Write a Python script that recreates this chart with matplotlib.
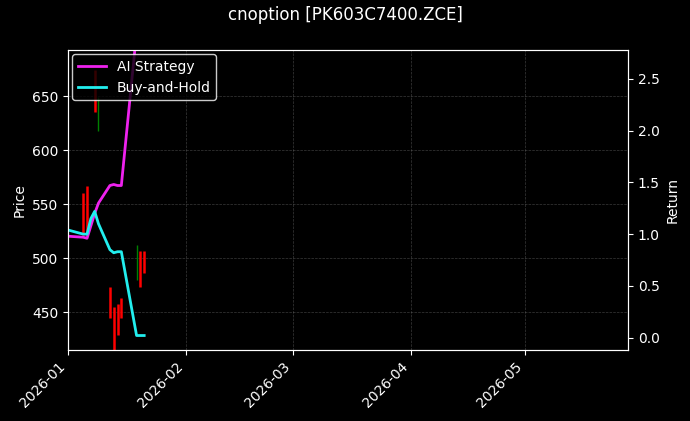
import matplotlib
matplotlib.use("Agg")
import matplotlib.pyplot as plt
import matplotlib.dates as mdates
import pandas as pd

candle_dates = ["2026-01-05","2026-01-06","2026-01-08","2026-01-09","2026-01-12","2026-01-13",
                "2026-01-14","2026-01-15","2026-01-19","2026-01-20","2026-01-21"]
opens  = [560, 567, 674, 618, 473, 455, 458, 463, 480, 507, 507]
closes = [521, 521, 635, 649, 445, 415, 429, 445, 512, 473, 486]

ret_dates = ["2026-01-01","2026-01-05","2026-01-06","2026-01-07","2026-01-08","2026-01-09",
             "2026-01-12","2026-01-13","2026-01-14","2026-01-15","2026-01-19","2026-01-20","2026-01-21"]
ai_ret  = [0.98, 0.97, 0.96, 1.08, 1.2, 1.3, 1.47, 1.48, 1.47, 1.47, 2.95, 3.0, 3.0]
bh_ret  = [1.04, 1.0, 1.0, 1.15, 1.22, 1.1, 0.85, 0.82, 0.83, 0.83, 0.02, 0.02, 0.02]

plt.style.use("dark_background")
fig = plt.figure(figsize=(6.9, 4.21), dpi=100)
ax = fig.add_axes([68/690, 71/421, 560/690, 300/421])
cd = pd.to_datetime(candle_dates)
for d, o, c in zip(cd, opens, closes):
    ax.vlines(d, min(o, c), max(o, c), color="green" if c >= o else "red", lw=1.8 if c < o else 1.0)
ax.set_ylim(415, 692.6)
ax.set_xlim(pd.Timestamp("2026-01-01"), pd.Timestamp("2026-05-28"))
ax.set_ylabel("Price")
ax.grid(True, ls="--", lw=0.5, color="gray", alpha=0.45)
ax.xaxis.set_major_locator(mdates.MonthLocator())
ax.xaxis.set_major_formatter(mdates.DateFormatter("%Y-%m"))
plt.setp(ax.get_xticklabels(), rotation=45, ha="right")

ax2 = ax.twinx()
rd = pd.to_datetime(ret_dates)
ax2.plot(rd, ai_ret, color="#ee22ee", lw=2, label="AI Strategy")
ax2.plot(rd, bh_ret, color="#22eeee", lw=2, label="Buy-and-Hold")
ax2.set_ylim(-0.12, 2.78)
ax2.set_ylabel("Return")
ax2.legend(loc="upper left", facecolor="black", edgecolor="white", borderaxespad=0.3)
fig.suptitle("cnoption [PK603C7400.ZCE]", y=0.985)
fig.savefig("out.png", dpi=100)
